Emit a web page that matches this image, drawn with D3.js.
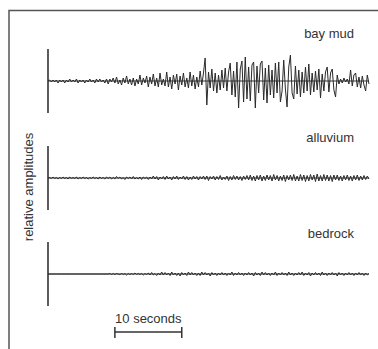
<!DOCTYPE html>
<html>
<head>
<meta charset="utf-8">
<script src="https://cdn.jsdelivr.net/npm/d3@7"></script>
<style>
  body { margin: 0; background: #fff; }
  text { font-family: "Liberation Sans", Arial, sans-serif; fill: #333; }
</style>
</head>
<body>
<div id="chart"></div>
<script>
// seismogram amplitudes, one sample every 0.25 s (relative units)
var dt = 0.25;
var bayMud = [
  0,1,-1,1,-1,1,-2,1,-1,1,
  -2,1,-1,2,-1,1,-1,2,-2,1,
  -1,1,-2,1,-1,2,-1,1,-2,2,
  -1,2,-1,1,-2,2,-3,2,-1,3,
  -2,4,-3,1,-4,3,-2,5,-3,2,
  -4,3,-5,2,-3,6,-4,3,-2,5,
  -6,4,-3,7,-5,3,-6,8,-4,2,
  -5,9,-6,4,-8,6,-3,7,-9,5,
  -4,8,-6,3,-7,9,-5,6,-8,4,
  -6,10,-4,8,23,-24,9,-7,12,-10,
  8,-12,6,-9,11,-7,13,-10,9,18,
  -14,10,-16,19,-27,12,20,-21,24,-18,
  14,-20,16,19,-27,15,-12,17,20,-19,
  13,-22,16,-14,11,-17,18,-12,19,-21,
  -10,21,-8,-26,14,26,-12,-18,15,-13,
  11,-16,9,-12,14,-10,17,-14,8,-11,
  10,-9,12,-17,7,-10,9,14,-11,8,
  12,-9,-16,6,-3,2,-2,3,-1,2,
  -3,11,-5,6,8,-6,4,-7,5,-4,
  -10,6,-3
];
var alluvium = [
  0,0.5,-0.5,1,-0.5,0.5,-1,0.5,-0.5,1,-0.5,0.5,-1,1,-0.5,0.5,-0.5,1,-1,0.5,-0.5,1,-0.5,0.5,-1,0.5,-0.5,1,-0.5,0.5,
  -1,1,-0.5,0.5,-1,1,-0.5,1,-1,0.5,-1,1.5,-0.5,1,-1,0.5,-1.5,1,-0.5,1,-1,1.5,-1,0.5,-1,1,-1.5,1,-0.5,1,
  -1.5,1,-1,2,-1,1.5,-2,1,-1,1.5,-1.5,2,-1,1,-2,1.5,-1,2,-1.5,1,-1,2,-1.5,1.5,-2,1,-1.5,2,-1,1.5,
  -2,1.5,-1,2,-1.5,2,-2.5,1.5,-1,2,-2,1.5,-1.5,2.5,-2,1,-1.5,2,-2.5,1.5,-2,2.5,-1.5,2,-2,1.5,-2.5,2,-1.5,2.5,
  -2,3,-2.5,2,-3,2.5,-2,3,-3,2,-2.5,3,-2,2.5,-3,3.5,-2,2.5,-3,2,-2.5,3,-3.5,2.5,-2,3,-2.5,3.5,-3,2,
  -3,3.5,-2.5,3,-3.5,2.5,-3,3.5,-2,3,-3.5,4,-3,2.5,-3,3.5,-2.5,3,-3,2.5,-3.5,3,-2,3,-2.5,2,-3,2.5,-2,3,
  -2.5,2,-3,2.5,-2,3,-2.5,2,-2,2.5,-1.5,2,-1
];
var bedrock = [
  0,0,0,0,0,0,0,0,0,0,0,0,0,0,0,0,0,0,0,0,0,0,0,0,0,0,0,0,0,0,0,0,0,0,0,0,0,
  0.5,-0.5,0.5,-0.5,0.5,0,-0.5,0.5,-0.5,0.5,-1,0.5,-0.5,0.5,-0.5,1,-0.5,0.5,-0.5,0.5,-1,0.5,-0.5,
  1,-1,1.5,-1,0.5,-1.5,1,-1,2,-1,1.5,-1,1,-1.5,2,-1,1,-1.5,1,-2,1.5,-1,1,-1.5,2,-1,1.5,-1,1,-1.5,
  1,-1.5,2,-1,1.5,-1,1,-2,1.5,-1,1,-1.5,1,-1,1.5,-1,1,-1.5,1,-1,2,-1.5,1,-1,1.5,-1,1,-1.5,1,-1,
  1.5,-1,1,-2,1.5,-1,1,-1.5,2,-1,1.5,-1,1,-1.5,1,-1,2,-1.5,1,-1,1.5,-1,1,-1.5,2,-1,1,-1.5,1,-1,
  1.5,-1,2,-1.5,1,-1,1.5,-2,1,-1,1.5,-1,1,-1.5,2,-1,1,-1.5,1,-1,1.5,-1,1,-2,1.5,-1,1,-1.5,1,-1,
  1.5,-1,1,-1.5,1,-1,1.5,-1,1,-1.5,1,-1,0.5
];
var traceNames = ["bay mud", "alluvium", "bedrock"];
var traceData = [bayMud, alluvium, bedrock];
var scaleBarSeconds = [10, 20];
var scaleBarLabel = "10 seconds";
var yLabel = "relative amplitudes";

var width = 378, height = 349;
var baselines = [81, 178, 274];
var labelY = [38, 142, 238];

var svg = d3.select("#chart").append("svg")
  .attr("width", width)
  .attr("height", height);

// frame (top and left edges only)
svg.append("path")
  .attr("d", "M9,349 L9,10.5 L378,10.5")
  .attr("fill", "none")
  .attr("stroke", "#555")
  .attr("stroke-width", 1.5);

var x = d3.scaleLinear().domain([0, 48]).range([48, 369]);

traceData.forEach(function(vals, k){
  var y = d3.scaleLinear().domain([-32, 32]).range([baselines[k] + 32, baselines[k] - 32]);

  // amplitude reference bar
  svg.append("line")
    .attr("x1", x(0)).attr("x2", x(0))
    .attr("y1", y(-32)).attr("y2", y(32))
    .attr("stroke", "#333")
    .attr("stroke-width", 1.6);

  // zero line
  svg.append("line")
    .attr("x1", x(0)).attr("x2", x(48))
    .attr("y1", y(0)).attr("y2", y(0))
    .attr("stroke", "#333")
    .attr("stroke-width", 1);

  var line = d3.line()
    .x(function(d, i){ return x(i * dt); })
    .y(function(d){ return y(d); });

  svg.append("path")
    .datum(vals)
    .attr("d", line)
    .attr("fill", "none")
    .attr("stroke", "#2a2a2a")
    .attr("stroke-width", 1);

  svg.append("text")
    .attr("x", 354)
    .attr("y", labelY[k])
    .attr("text-anchor", "end")
    .attr("font-size", 13)
    .text(traceNames[k]);
});

// y label
svg.append("text")
  .attr("transform", "translate(33,187) rotate(-90)")
  .attr("text-anchor", "middle")
  .attr("font-size", 13)
  .text(yLabel);

// time scale bar
var sx0 = x(scaleBarSeconds[0]), sx1 = x(scaleBarSeconds[1]);
var g = svg.append("g").attr("stroke", "#333").attr("stroke-width", 1.5);
g.append("line").attr("x1", sx0).attr("x2", sx1).attr("y1", 332).attr("y2", 332);
g.append("line").attr("x1", sx0).attr("x2", sx0).attr("y1", 327).attr("y2", 338);
g.append("line").attr("x1", sx1).attr("x2", sx1).attr("y1", 327).attr("y2", 338);

svg.append("text")
  .attr("x", (sx0 + sx1) / 2)
  .attr("y", 323)
  .attr("text-anchor", "middle")
  .attr("font-size", 13)
  .text(scaleBarLabel);
</script>
</body>
</html>
